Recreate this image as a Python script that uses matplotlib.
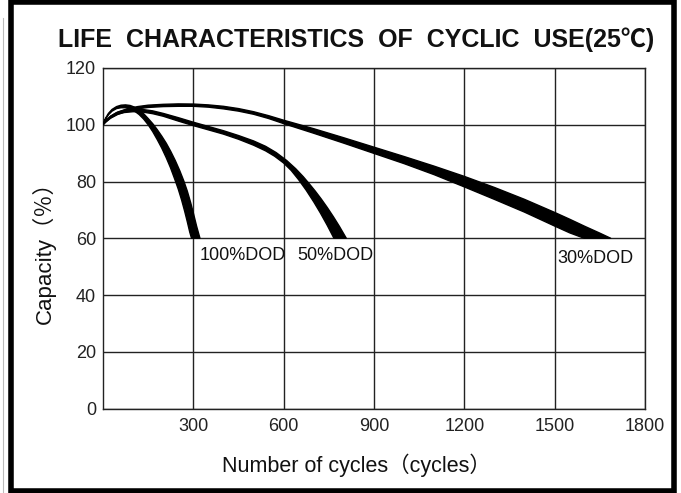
import numpy as np
import matplotlib
matplotlib.use('Agg')
import matplotlib.pyplot as plt
from matplotlib.patches import Rectangle

plt.rcParams['font.family'] = ['Liberation Sans', 'Noto Sans CJK SC', 'DejaVu Sans']

# ___ bordes de cada curva (ciclos, capacidad %) ___
dod100_up_x = [0, 8, 18, 30, 45, 60, 75, 90, 105, 120, 135, 150, 165, 180, 195, 210, 225, 240, 255, 268, 280, 291, 301, 311, 322]
dod100_up_y = [100, 102.2, 104, 105.4, 106.4, 106.9, 107, 106.8, 106.2, 105.2, 103.9, 102.2, 100.4, 98.3, 96, 93.5, 90.6, 87.4, 83.8, 80.3, 76.6, 72.6, 68.5, 64.2, 60]
dod100_lo_x = [0, 8, 18, 30, 45, 60, 75, 90, 105, 120, 135, 150, 165, 180, 195, 210, 224, 238, 250, 261, 271, 280, 288, 294]
dod100_lo_y = [100, 101.8, 103.5, 104.8, 105.7, 106.0, 106.0, 105.6, 104.8, 103.6, 102.0, 100.0, 97.6, 94.8, 91.8, 88.4, 84.9, 80.9, 77.3, 73.5, 69.6, 65.8, 62.2, 60]

dod50_up_x = [0, 10, 25, 45, 70, 100, 130, 165, 200, 250, 300, 350, 400, 450, 500, 540, 575, 610, 640, 665, 685, 705, 725, 745, 765, 785, 808]
dod50_up_y = [100, 101.5, 103.0, 104.3, 105.1, 105.5, 105.4, 104.9, 104.0, 102.5, 100.9, 99.4, 97.9, 96.2, 94.3, 92.4, 90.2, 87.4, 84.5, 81.7, 79.2, 76.6, 73.8, 70.8, 67.6, 64.2, 60]
dod50_lo_x = [0, 10, 25, 45, 70, 100, 130, 165, 200, 250, 300, 350, 400, 450, 500, 540, 570, 600, 625, 650, 675, 700, 722, 745, 767]
dod50_lo_y = [100, 101.1, 102.4, 103.6, 104.3, 104.6, 104.5, 103.9, 103.0, 101.3, 99.7, 98.2, 96.7, 94.9, 92.8, 90.8, 88.9, 86.5, 83.9, 80.6, 76.9, 72.8, 68.9, 64.5, 60]

dod30_up_x = [0, 10, 25, 50, 80, 115, 150, 200, 250, 300, 350, 400, 450, 500, 550, 600, 650, 700, 800, 900, 1000, 1100, 1200, 1300, 1400, 1500, 1550, 1600, 1650, 1686]
dod30_up_y = [100, 101.5, 103, 104.5, 105.6, 106.4, 106.9, 107.2, 107.35, 107.3, 107, 106.5, 105.7, 104.6, 103.2, 101.6, 100.1, 98.6, 95.4, 92.1, 88.8, 85.4, 81.8, 77.9, 73.7, 69.1, 66.7, 64.2, 61.8, 60]
dod30_lo_x = [0, 10, 25, 50, 80, 115, 150, 200, 250, 300, 350, 400, 450, 500, 550, 600, 650, 700, 800, 900, 1000, 1100, 1200, 1300, 1400, 1500, 1550, 1598]
dod30_lo_y = [100, 101, 102.3, 103.7, 104.8, 105.6, 106.1, 106.4, 106.5, 106.5, 106.2, 105.6, 104.8, 103.7, 102.2, 100.4, 98.7, 97.0, 93.5, 89.9, 86.3, 82.4, 78.1, 73.7, 69.2, 64.3, 61.9, 60]

etiquetas = ['100%DOD', '50%DOD', '30%DOD']
etq_x = [322, 644, 1510]
etq_y = [54.0, 54.0, 52.8]

xticks = [300, 600, 900, 1200, 1500, 1800]
yticks = [0, 20, 40, 60, 80, 100, 120]

fig = plt.figure(figsize=[6.81, 4.93], dpi=100)
ax = fig.add_axes([103/681, 1-408.5/493, 542/681, 340.5/493])

bandas = [(dod100_up_x, dod100_up_y, dod100_lo_x, dod100_lo_y),
          (dod50_up_x, dod50_up_y, dod50_lo_x, dod50_lo_y),
          (dod30_up_x, dod30_up_y, dod30_lo_x, dod30_lo_y)]
for ux, uy, lx, ly in bandas:
    px = np.concatenate([ux, lx[::-1]])
    py = np.concatenate([uy, ly[::-1]])
    ax.fill(px, py, color='black', lw=1.0, joinstyle='round', zorder=3)

for t, x, y in zip(etiquetas, etq_x, etq_y):
    ax.text(x, y, t, fontsize=13, ha='left', va='center', color='#111111', zorder=4)

ax.set_xlim(0, 1800)
ax.set_ylim(0, 120)
ax.set_xticks(xticks)
ax.set_yticks(yticks)
ax.tick_params(length=0, labelsize=13, colors='#222222')
ax.tick_params(axis='x', pad=7)
ax.tick_params(axis='y', pad=5)
ax.grid(True, color='#222222', linewidth=1.0)
for s in ax.spines.values():
    s.set_color('#222222')
    s.set_linewidth(1.0)

fig.text(356/681, 1-40/493, 'LIFE  CHARACTERISTICS  OF  CYCLIC  USE(25\u2103)',
         fontsize=18, fontweight='bold', ha='center', va='center', color='#111111')
fig.text(356/681, 1-465/493, 'Number of cycles\uff08cycles\uff09',
         fontsize=15.5, ha='center', va='center', color='#111111')
fig.text(44/681, 1-247/493, 'Capacity\uff08\uff05\uff09', rotation=90,
         fontsize=16, ha='center', va='center', color='#111111')

# marco negro
fig.patches.append(Rectangle((11.2/681, 2/493), 663/681, 489/493, transform=fig.transFigure,
                             fill=False, edgecolor='black', linewidth=4))
fig.add_artist(plt.Line2D([3/681, 3/681], [0, 1-18/493], transform=fig.transFigure,
                          color='#bbbbbb', linewidth=0.8))

plt.savefig('out.png', dpi=100)
